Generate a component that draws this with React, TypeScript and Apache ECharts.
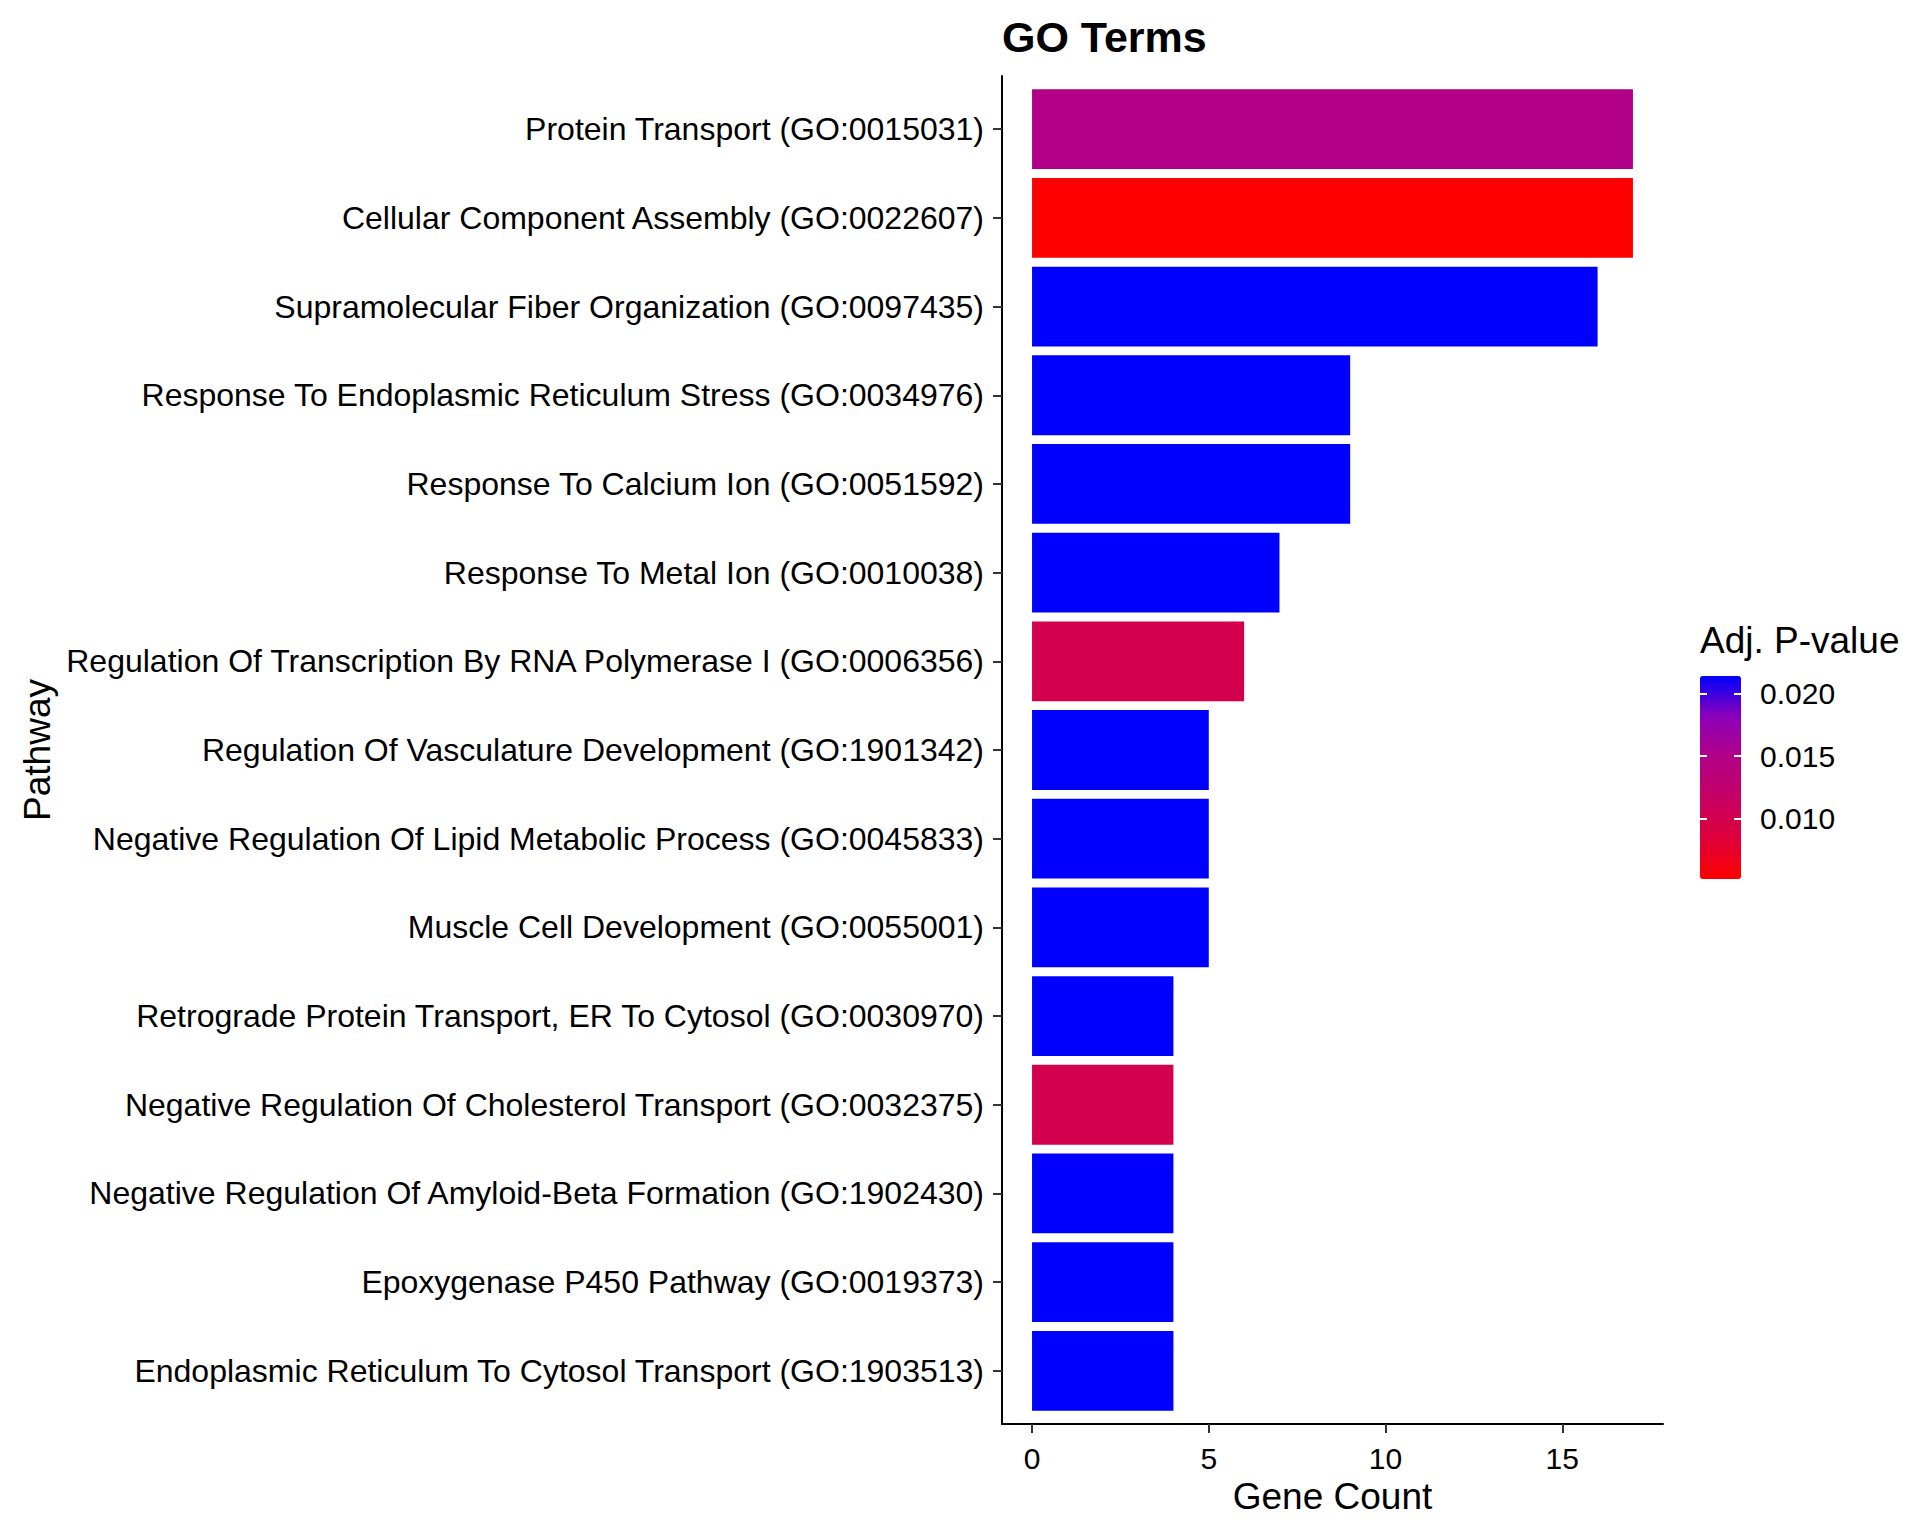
import { useEffect, useRef } from 'react'
import * as echarts from 'echarts'

// GO 通路富集结果（自上而下）
const pathways = [
  'Protein Transport (GO:0015031)',
  'Cellular Component Assembly (GO:0022607)',
  'Supramolecular Fiber Organization (GO:0097435)',
  'Response To Endoplasmic Reticulum Stress (GO:0034976)',
  'Response To Calcium Ion (GO:0051592)',
  'Response To Metal Ion (GO:0010038)',
  'Regulation Of Transcription By RNA Polymerase I (GO:0006356)',
  'Regulation Of Vasculature Development (GO:1901342)',
  'Negative Regulation Of Lipid Metabolic Process (GO:0045833)',
  'Muscle Cell Development (GO:0055001)',
  'Retrograde Protein Transport, ER To Cytosol (GO:0030970)',
  'Negative Regulation Of Cholesterol Transport (GO:0032375)',
  'Negative Regulation Of Amyloid-Beta Formation (GO:1902430)',
  'Epoxygenase P450 Pathway (GO:0019373)',
  'Endoplasmic Reticulum To Cytosol Transport (GO:1903513)',
]
const geneCounts = [17, 17, 16, 9, 9, 7, 6, 5, 5, 5, 4, 4, 4, 4, 4]
const adjPValues = [
  0.015, 0.0052, 0.0214, 0.0214, 0.0214, 0.0214, 0.0099, 0.0214, 0.0214, 0.0214,
  0.0214, 0.0099, 0.0214, 0.0214, 0.0214,
]
const countTicks = [0, 5, 10, 15]
const pTicks = [0.01, 0.015, 0.02]

const FONT = 'Liberation Sans, Arial, Helvetica, sans-serif'
// 红 -> 蓝 渐变（低 p 值为红）
const gradient = ['#FF0000', '#DE003A', '#C60064', '#B20086', '#8C00B9', '#0000FF']

export default function App() {
  const chartRef = useRef<HTMLDivElement>(null)

  useEffect(() => {
    if (!chartRef.current) return
    document.body.style.margin = '0'
    const chart = echarts.init(chartRef.current, undefined, { renderer: 'svg' })

    const pMin = 0.0052
    const pMax = 0.0214
    const data = pathways.map((_, i) => [geneCounts[i], i + 1, adjPValues[i]])
    const rowTicks = pathways.map((_, i) => i + 1)

    const option: any = {
      animation: false,
      backgroundColor: '#ffffff',
      textStyle: { fontFamily: FONT },
      title: [
        {
          text: 'GO Terms',
          left: 1002,
          top: 15,
          padding: 0,
          textStyle: { fontFamily: FONT, fontSize: 43, fontWeight: 'bold', color: '#000' },
        },
        {
          text: 'Adj. P-value',
          left: 1700,
          top: 622,
          padding: 0,
          textStyle: { fontFamily: FONT, fontSize: 37, fontWeight: 'normal', color: '#000' },
        },
      ],
      grid: [
        { left: 1002, top: 76, width: 661, height: 1348, outerBoundsMode: 'none' },
        { left: 1700, top: 676, width: 41, height: 203, outerBoundsMode: 'none' },
      ],
      xAxis: [
        {
          type: 'value',
          gridIndex: 0,
          min: -0.85,
          max: 17.85,
          name: 'Gene Count',
          nameLocation: 'middle',
          nameGap: 52,
          nameTextStyle: { fontFamily: FONT, fontSize: 37, color: '#000' },
          axisLine: { show: true, onZero: false, lineStyle: { color: '#000', width: 2 } },
          axisTick: { show: true, length: 9, customValues: countTicks, lineStyle: { color: '#333', width: 2 } },
          axisLabel: { customValues: countTicks, fontFamily: FONT, fontSize: 30, color: '#000', margin: 19 },
          splitLine: { show: false },
        },
        { type: 'value', gridIndex: 1, show: false, min: 0, max: 1 },
      ],
      yAxis: [
        {
          type: 'value',
          gridIndex: 0,
          inverse: true,
          min: 0.4,
          max: 15.6,
          name: 'Pathway',
          nameLocation: 'middle',
          nameGap: 946,
          nameTextStyle: { fontFamily: FONT, fontSize: 37, color: '#000' },
          axisLine: { show: true, onZero: false, lineStyle: { color: '#000', width: 2 } },
          axisTick: { show: true, length: 9, customValues: rowTicks, lineStyle: { color: '#333', width: 2 } },
          axisLabel: {
            customValues: rowTicks,
            fontFamily: FONT,
            fontSize: 32,
            color: '#000',
            margin: 18,
            formatter: (v: number) => pathways[Math.round(v) - 1] ?? '',
          },
          splitLine: { show: false },
        },
        {
          // 色条刻度（右侧，带标签）
          type: 'value',
          gridIndex: 1,
          position: 'right',
          min: pMin,
          max: pMax,
          z: 10,
          axisLine: { show: false, onZero: false },
          axisTick: { show: true, inside: true, length: 7, customValues: pTicks, lineStyle: { color: '#fff', width: 2 } },
          axisLabel: {
            customValues: pTicks,
            fontFamily: FONT,
            fontSize: 30,
            color: '#000',
            margin: 19,
            formatter: (v: number) => v.toFixed(3),
          },
          splitLine: { show: false },
        },
        {
          // 色条左侧刻度
          type: 'value',
          gridIndex: 1,
          position: 'left',
          min: pMin,
          max: pMax,
          z: 10,
          axisLine: { show: false, onZero: false },
          axisTick: { show: true, inside: true, length: 7, customValues: pTicks, lineStyle: { color: '#fff', width: 2 } },
          axisLabel: { show: false },
          splitLine: { show: false },
        },
      ],
      visualMap: {
        type: 'continuous',
        seriesIndex: 0,
        dimension: 2,
        min: pMin,
        max: pMax,
        orient: 'vertical',
        left: 1700,
        top: 676,
        itemWidth: 41,
        itemHeight: 203,
        padding: 0,
        calculable: false,
        showLabel: false,
        text: null,
        inRange: { color: gradient },
      },
      series: [
        {
          type: 'custom',
          xAxisIndex: 0,
          yAxisIndex: 0,
          encode: { x: 0, y: 1 },
          data,
          renderItem: (_params: any, api: any) => {
            const row = api.value(1)
            const start = api.coord([0, row])
            const end = api.coord([api.value(0), row])
            const h = Math.abs(api.size([0, 0.9])[1])
            return {
              type: 'rect',
              shape: { x: start[0], y: start[1] - h / 2, width: end[0] - start[0], height: h },
              style: { fill: api.visual('color') },
            }
          },
        },
      ],
    }

    chart.setOption(option)

    return () => {
      chart.dispose()
    }
  }, [])

  return <div ref={chartRef} style={{ width: 1920, height: 1536 }} />
}
